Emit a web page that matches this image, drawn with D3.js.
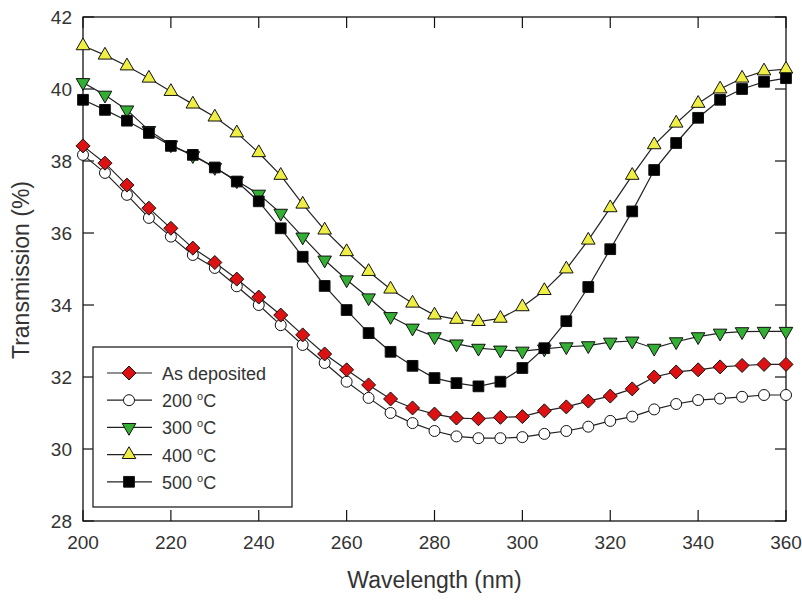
<!DOCTYPE html>
<html>
<head>
<meta charset="utf-8">
<script src="https://cdnjs.cloudflare.com/ajax/libs/d3/7.8.5/d3.min.js"></script>
<style>
body { margin: 0; background: #fff; }
text { font-family: "Liberation Sans", Arial, sans-serif; fill: #333; }
</style>
</head>
<body>
<script>
// wavelength (nm)
var wavelength = [200,205,210,215,220,225,230,235,240,245,250,255,260,265,270,275,280,
                  285,290,295,300,305,310,315,320,325,330,335,340,345,350,355,360];

var asDeposited = [38.42,37.94,37.33,36.69,36.13,35.58,35.18,34.72,34.22,33.72,33.17,32.64,32.2,31.78,31.39,31.14,30.97,
                   30.86,30.84,30.88,30.9,31.06,31.17,31.33,31.47,31.67,32.0,32.14,32.2,32.28,32.32,32.35,32.35];
var t200 = [38.17,37.67,37.06,36.42,35.9,35.39,35.03,34.52,34.0,33.44,32.89,32.39,31.87,31.42,31.0,30.72,30.5,
            30.35,30.3,30.3,30.33,30.42,30.5,30.62,30.78,30.9,31.1,31.25,31.36,31.4,31.45,31.5,31.5];
var t300 = [40.18,39.83,39.42,38.85,38.45,38.15,37.82,37.45,37.08,36.55,35.89,35.25,34.7,34.2,33.68,33.36,33.12,
            32.92,32.8,32.75,32.72,32.78,32.84,32.87,32.97,33.0,32.8,32.98,33.12,33.22,33.26,33.27,33.27];
var t400 = [41.2,40.94,40.64,40.3,39.93,39.58,39.22,38.78,38.23,37.6,36.8,36.08,35.48,34.93,34.44,34.05,33.72,
            33.6,33.54,33.63,33.95,34.4,35.0,35.8,36.7,37.6,38.45,39.05,39.6,40.0,40.3,40.5,40.55];
var t500 = [39.7,39.42,39.12,38.78,38.42,38.17,37.82,37.43,36.88,36.13,35.34,34.53,33.86,33.22,32.7,32.31,31.97,
            31.83,31.74,31.87,32.25,32.8,33.55,34.5,35.55,36.6,37.75,38.5,39.2,39.7,40.0,40.2,40.3];

var xTicks = [200,220,240,260,280,300,320,340,360];
var yTicks = [28,30,32,34,36,38,40,42];

var seriesNames = ["As deposited","200","300","400","500"];

function init(){
	var w = 802, h = 601;
	var left = 83, right = 786, top = 17, bottom = 521;

	var svg = d3.select("body").append("svg")
		.attr("width", w).attr("height", h);

	var xScale = d3.scaleLinear().domain([200,360]).range([left,right]);
	var yScale = d3.scaleLinear().domain([28,42]).range([bottom,top]);

	// frame
	svg.append("rect")
		.attr("x", left).attr("y", top)
		.attr("width", right-left).attr("height", bottom-top)
		.attr("fill", "none").attr("stroke", "#111").attr("stroke-width", 1.3);

	// ticks, inward on all sides
	var tl = 11;
	var gT = svg.append("g").attr("stroke", "#111").attr("stroke-width", 1.2);
	xTicks.forEach(function(t){
		gT.append("line").attr("x1", xScale(t)).attr("x2", xScale(t))
			.attr("y1", bottom).attr("y2", bottom-tl);
		gT.append("line").attr("x1", xScale(t)).attr("x2", xScale(t))
			.attr("y1", top).attr("y2", top+tl);
	});
	yTicks.forEach(function(t){
		gT.append("line").attr("y1", yScale(t)).attr("y2", yScale(t))
			.attr("x1", left).attr("x2", left+tl);
		gT.append("line").attr("y1", yScale(t)).attr("y2", yScale(t))
			.attr("x1", right).attr("x2", right-tl);
	});

	svg.append("g").selectAll("text").data(xTicks).enter().append("text")
		.attr("x", function(d){ return xScale(d); })
		.attr("y", 549)
		.attr("text-anchor", "middle")
		.style("font-size", "19px")
		.text(function(d){ return d; });

	svg.append("g").selectAll("text").data(yTicks).enter().append("text")
		.attr("x", 72)
		.attr("y", function(d){ return yScale(d) + 7; })
		.attr("text-anchor", "end")
		.style("font-size", "19px")
		.text(function(d){ return d; });

	svg.append("text")
		.attr("x", (left+right)/2).attr("y", 588)
		.attr("text-anchor", "middle")
		.style("font-size", "23px")
		.text("Wavelength (nm)");

	svg.append("text")
		.attr("transform", "translate(29,270) rotate(-90)")
		.attr("text-anchor", "middle")
		.style("font-size", "23px")
		.text("Transmission (%)");

	var series = [
		{ name: seriesNames[1], values: t200, shape: "circle", fill: "#ffffff" },
		{ name: seriesNames[0], values: asDeposited, shape: "diamond", fill: "#dd1111" },
		{ name: seriesNames[2], values: t300, shape: "down", fill: "#33b033" },
		{ name: seriesNames[3], values: t400, shape: "up", fill: "#eeee44" },
		{ name: seriesNames[4], values: t500, shape: "square", fill: "#000000" }
	];

	function symbolPath(shape){
		if (shape === "circle") return d3.symbol().type(d3.symbolCircle).size(95)();
		if (shape === "diamond") return "M0,-7L7,0L0,7L-7,0Z";
		if (shape === "square") return d3.symbol().type(d3.symbolSquare).size(115)();
		return d3.symbol().type(d3.symbolTriangle).size(80)();
	}
	function symbolTransform(shape, x, y){
		var t = "translate(" + x + "," + y + ")";
		if (shape === "down") t += " rotate(180)";
		return t;
	}

	var line = d3.line()
		.x(function(d,i){ return xScale(wavelength[i]); })
		.y(function(d){ return yScale(d); });

	series.forEach(function(s){
		svg.append("path")
			.attr("d", line(s.values))
			.attr("fill", "none")
			.attr("stroke", "#222")
			.attr("stroke-width", 1.2);
	});

	series.forEach(function(s){
		svg.append("g").selectAll("path").data(s.values).enter().append("path")
			.attr("d", symbolPath(s.shape))
			.attr("transform", function(d,i){ return symbolTransform(s.shape, xScale(wavelength[i]), yScale(d)); })
			.attr("fill", s.fill)
			.attr("stroke", "#111")
			.attr("stroke-width", 1);
	});

	// legend
	svg.append("rect")
		.attr("x", 93).attr("y", 347)
		.attr("width", 199).attr("height", 160)
		.attr("fill", "#fff").attr("stroke", "#222").attr("stroke-width", 1.3);

	var legendOrder = [1,0,2,3,4];
	legendOrder.forEach(function(si, k){
		var s = series[si];
		var ly = 373 + k*27.2;
		svg.append("line").attr("x1", 107).attr("x2", 152)
			.attr("y1", ly).attr("y2", ly)
			.attr("stroke", "#222").attr("stroke-width", 1.2);
		svg.append("path")
			.attr("d", symbolPath(s.shape))
			.attr("transform", symbolTransform(s.shape, 129, ly))
			.attr("fill", s.fill).attr("stroke", "#111");
		var t = svg.append("text")
			.attr("x", 162).attr("y", ly + 7)
			.style("font-size", "18px");
		if (s.name === "As deposited") {
			t.text(s.name);
		} else {
			t.append("tspan").text(s.name + " ");
			t.append("tspan").attr("dy", -7).style("font-size", "11px").text("o");
			t.append("tspan").attr("dy", 7).text("C");
		}
	});
}

window.onload = init;
</script>
</body>
</html>
